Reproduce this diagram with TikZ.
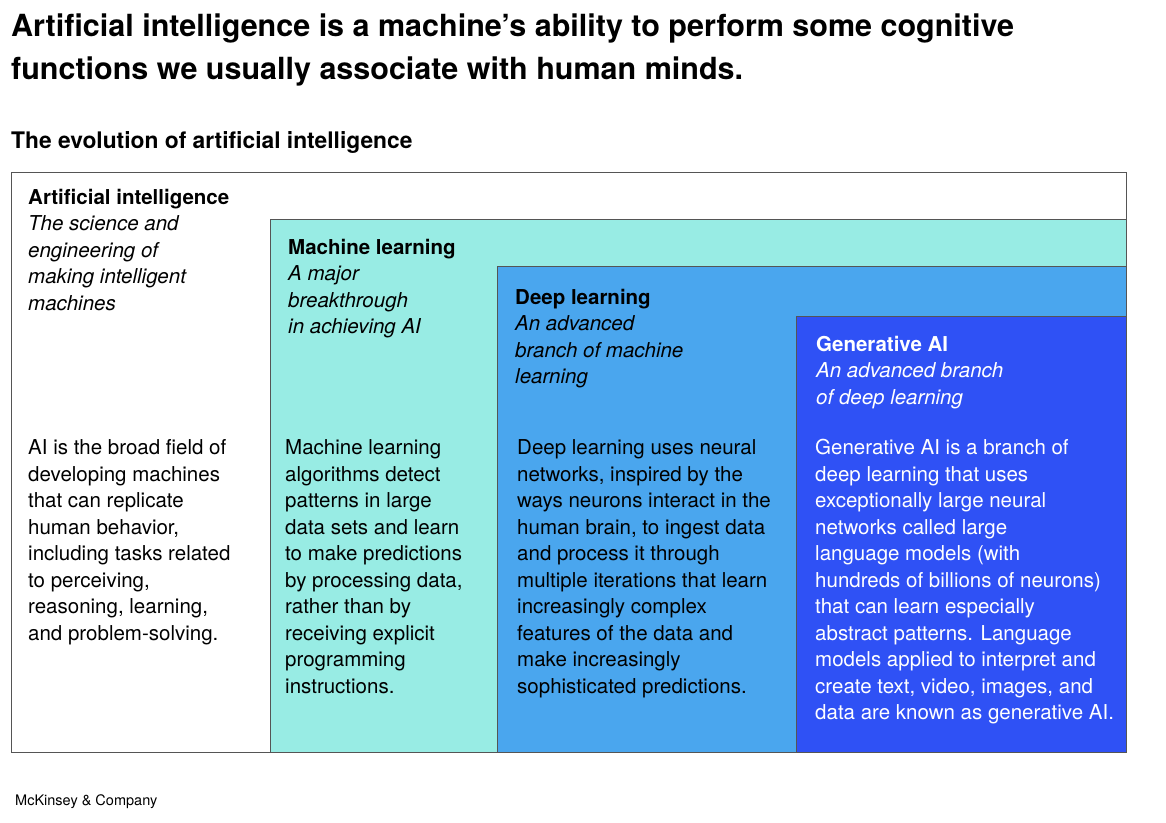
\documentclass[tikz,border=0pt]{standalone}
\usepackage{fontspec}
\setmainfont{TeX Gyre Heros}
\usepackage{xcolor}
\definecolor{mlcyan}{HTML}{98ECE4}
\definecolor{dlblue}{HTML}{4AA6EE}
\definecolor{genblue}{HTML}{2F51F5}
\definecolor{edgegrey}{RGB}{85,85,85}
\tikzset{
  box/.style={draw=edgegrey, line width=0.9pt},
  head/.style={anchor=base west, inner sep=0pt, font=\fontsize{20.5}{26.5}\selectfont\bfseries},
  tag/.style={anchor=base west, inner sep=0pt, align=left, font=\fontsize{20.5}{26.5}\selectfont\itshape},
  body/.style={anchor=base west, inner sep=0pt, align=left, font=\fontsize{20.5}{26.5}\selectfont},
}
\newcommand{\tier}[2]{\draw[box,fill=#2] (#1) rectangle (\rx,\by);}

\begin{document}
\begin{tikzpicture}[x=1pt,y=-1pt]
  \useasboundingbox (0,0) rectangle (1166,822);
  \pgfmathsetmacro{\rx}{1126};
  \pgfmathsetmacro{\by}{752};
  \pgfmathsetmacro{\ls}{26.5};
  \pgfmathsetmacro{\bodyy}{454.5};
  % nested boxes
  \draw[box] (11,172) rectangle (\rx,\by);
  \tier{270,219}{mlcyan};
  \tier{497,266}{dlblue};
  \tier{796,316}{genblue};
  % titles (multi-line nodes sit on their last baseline)
  \node[anchor=base west, inner sep=0pt, align=left,
        font=\fontsize{30.5}{43}\selectfont\bfseries] (headline) at (11,79)
    {Artificial intelligence is a machine’s ability to perform some cognitive\\
     functions we usually associate with human minds.};
  \node[anchor=base west, inner sep=0pt, font=\fontsize{22.8}{27}\selectfont\bfseries]
    (subtitle) at (11,148) {The evolution of artificial intelligence};
  % artificial intelligence
  \node[head] (aihead) at (28,204) {Artificial intelligence};
  \node[tag] (aitag) at (28,230.5+3*\ls) {The science and\\engineering of\\making intelligent\\machines};
  \node[body] (aibody) at (28,\bodyy+7*\ls) {AI is the broad field of\\developing machines\\that can replicate\\human behavior,\\including tasks related\\to perceiving,\\reasoning, learning,\\and problem-solving.};
  % machine learning
  \node[head] (mlhead) at (288,254) {Machine learning};
  \node[tag] (mltag) at (288,280.5+2*\ls) {A major\\breakthrough\\in achieving AI};
  \node[body] (mlbody) at (285,\bodyy+9*\ls) {Machine learning\\algorithms detect\\patterns in large\\data sets and learn\\to make predictions\\by processing data,\\rather than by\\receiving explicit\\programming\\instructions.};
  % deep learning
  \node[head] (dlhead) at (515,304) {Deep learning};
  \node[tag] (dltag) at (515,330.5+2*\ls) {An advanced\\branch of machine\\learning};
  \node[body] (dlbody) at (517,\bodyy+9*\ls) {Deep learning uses neural\\networks, inspired by the\\ways neurons interact in the\\human brain, to ingest data\\and process it through\\multiple iterations that learn\\increasingly complex\\features of the data and\\make increasingly\\sophisticated predictions.};
  % generative ai
  \node[head, text=white] (genhead) at (816,351) {Generative AI};
  \node[tag, text=white] (gentag) at (816,377.5+\ls) {An advanced branch\\of deep learning};
  \node[body, text=white] (genbody) at (815,\bodyy+10*\ls) {Generative AI is a branch of\\deep learning that uses\\exceptionally large neural\\networks called large\\language models (with\\hundreds of billions of neurons)\\that can learn especially\\abstract patterns. Language\\models applied to interpret and\\create text, video, images, and\\data are known as generative AI.};
  % source
  \node[anchor=base west, inner sep=0pt, font=\fontsize{14.5}{17}\selectfont]
    (brand) at (15,805) {McKinsey \& Company};
\end{tikzpicture}
\end{document}
